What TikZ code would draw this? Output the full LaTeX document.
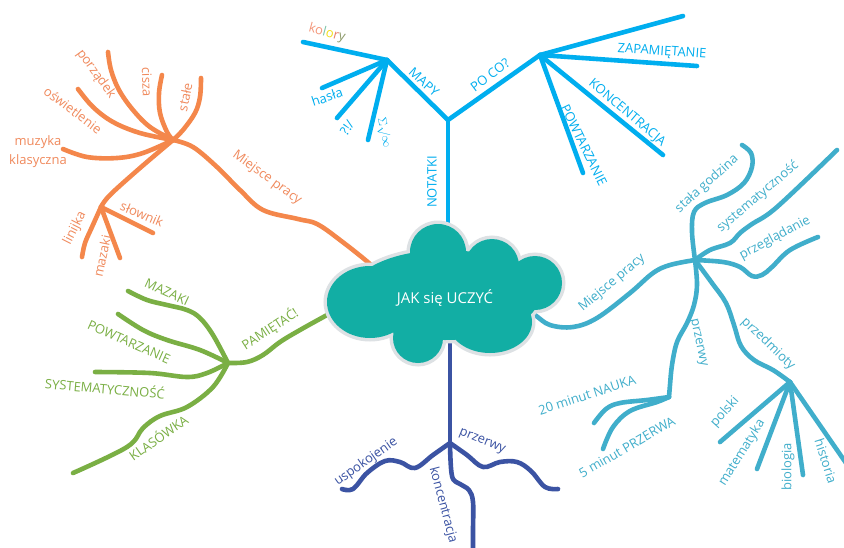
\documentclass[tikz,border=0pt]{standalone}
\usepackage{fontspec}
\setmainfont{Open Sans}
\definecolor{orl}{HTML}{F4874B}
\definecolor{ort}{HTML}{F08A5D}
\definecolor{bl}{HTML}{00AEEF}
\definecolor{tl}{HTML}{40AECB}
\definecolor{nv}{HTML}{3B53A3}
\definecolor{gr}{HTML}{7AAF44}
\definecolor{cloudfill}{HTML}{12AEA4}
\definecolor{cloudedge}{HTML}{DDE1E4}
\definecolor{kA}{HTML}{F4977A}
\definecolor{kB}{HTML}{7CC4A8}
\definecolor{kC}{HTML}{F2DF1A}
\definecolor{kD}{HTML}{E8806A}
\definecolor{kE}{HTML}{8E9B6B}
\tikzset{
  br/.style={line width=4.6pt, line cap=round, line join=round},
  lbl/.style={font=\fontsize{13}{15}\selectfont, inner sep=0pt},
  sm/.style={smooth, tension=0.6},
}
\begin{document}
\begin{tikzpicture}[x=1pt,y=-1pt]
\useasboundingbox (0,0) rectangle (844,547);
\fill[white] (0,0) rectangle (844,547);

% ---------------- orange tree ----------------
\coordinate (hubO) at (173,140);
\coordinate (hubO2) at (101,207);
\draw[br,orl] plot[sm] coordinates {(108,52) (111,70) (119,90) (133,110) (150,127) (hubO)};
\draw[br,orl] plot[sm] coordinates {(162,75) (159,93) (160,113) (167,132) (hubO)};
\draw[br,orl] plot[sm] coordinates {(201,78) (200,97) (195,113) (183,130) (hubO)};
\draw[br,orl] plot[sm] coordinates {(78,89) (93,107) (113,122) (140,133) (hubO)};
\draw[br,orl] plot[sm] coordinates {(63,149) (87,157) (117,158) (143,153) (hubO)};
\draw[br,orl] plot[sm] coordinates {(hubO) (193,147) (217,167) (240,190) (263,210) (298,219) (317,224) (340,240) (370,264) (385,280)};
\draw[br,orl] plot[sm] coordinates {(hubO) (140,168) (110,195) (hubO2)};
\draw[br,orl] plot[sm] coordinates {(hubO2) (92,227) (85,243) (82,257)};
\draw[br,orl] (hubO2) -- (120,258);
\draw[br,orl] (hubO2) -- (153,233);

% ---------------- blue tree ----------------
\coordinate (jB) at (448,120);
\coordinate (hubM) at (387,60);
\coordinate (hubP) at (540,55);
\draw[br,bl] (448,250) -- (jB);
\draw[br,bl] (jB) -- (hubM);
\draw[br,bl] (jB) -- (hubP);
\draw[br,bl] (hubM) -- (303,42);
\draw[br,bl] (hubM) -- (322,88);
\draw[br,bl] (hubM) -- (337,118);
\draw[br,bl] (hubM) -- (368,140);
\draw[br,bl] (hubP) -- (683,16);
\draw[br,bl] (hubP) -- (697,66);
\draw[br,bl] (hubP) -- (663,155);
\draw[br,bl] (hubP) -- (583,173);

% ---------------- teal tree ----------------
\coordinate (hubT) at (695,260);
\coordinate (hubT2) at (669,397);
\coordinate (hubT3) at (790,382);
\draw[br,tl] plot[sm] coordinates {(520,305) (535,315) (550,325) (573,327) (597,318) (630,293) (653,273) (670,265) (hubT)};
\draw[br,tl] plot[sm] coordinates {(hubT) (692,232) (694,212) (705,203) (727,195) (744,183) (752,167) (751,153) (742,145)};
\draw[br,tl] plot[sm] coordinates {(hubT) (710,250) (730,243) (740,233) (752,224) (777,207) (837,150)};
\draw[br,tl] plot[sm] coordinates {(hubT) (723,262) (740,267) (752,276) (762,275) (772,267) (790,250) (818,237)};
\draw[br,tl] plot[sm] coordinates {(hubT) (697,285) (694,305) (687,323) (677,342) (672,365) (670,385) (hubT2)};
\draw[br,tl] plot[sm] coordinates {(hubT2) (647,400) (620,403) (606,409) (594,423)};
\draw[br,tl] plot[sm] coordinates {(hubT2) (657,402) (630,411) (613,427) (603,449)};
\draw[br,tl] plot[sm] coordinates {(hubT) (712,283) (726,303) (734,325) (741,346) (754,360) (773,370) (hubT3)};
\draw[br,tl] (hubT3) -- (720,442);
\draw[br,tl] (hubT3) -- (757,469);
\draw[br,tl] (hubT3) -- (803,475);
\draw[br,tl] (hubT3) -- (846,463);

% ---------------- navy tree ----------------
\coordinate (jN) at (450,443);
\draw[br,nv] (450,340) -- (jN);
\draw[br,nv] plot[sm] coordinates {(jN) (433,455) (415,468) (400,462) (385,461) (367,473) (353,489) (342,489)};
\draw[br,nv] plot[sm] coordinates {(jN) (467,455) (483,467) (500,462) (517,462) (531,471) (545,487) (558,489)};
\draw[br,nv] plot[sm] coordinates {(jN) (452,476) (460,484) (469,490) (473,502) (473,530) (473,550)};

% ---------------- green tree ----------------
\coordinate (hubG) at (228,363);
\draw[br,gr] plot[sm] coordinates {(345,305) (327,315) (300,330) (280,342) (263,355) (247,362) (hubG)};
\draw[br,gr] plot[sm] coordinates {(hubG) (213,335) (200,318) (187,310) (167,305) (147,300) (128,291)};
\draw[br,gr] plot[sm] coordinates {(hubG) (200,350) (167,340) (143,330) (118,314)};
\draw[br,gr] plot[sm] coordinates {(hubG) (207,373) (187,377) (150,373) (95,372)};
\draw[br,gr] plot[sm] coordinates {(hubG) (213,387) (187,407) (160,416) (143,428) (127,447) (73,473)};

% ---------------- cloud ----------------
\def\cloudshape{%
  (370,302) ellipse [x radius=43, y radius=36]
  (438,252) circle [radius=28]
  (492,266) circle [radius=27]
  (535,283) circle [radius=27]
  (418,338) circle [radius=25]
  (490,322) ellipse [x radius=42, y radius=31]
  (445,295) ellipse [x radius=95, y radius=45]}
\draw[cloudedge, line width=7pt] \cloudshape;
\fill[cloudfill] \cloudshape;
\node[lbl, white, font=\fontsize{15}{17}\selectfont] (center) at (445,298) {JAK się UCZYĆ};

% ---------------- orange labels ----------------
\node[lbl,ort,rotate=-54] (tPorz) at (96,74) {porządek};
\node[lbl,ort,rotate=-88] (tCisza) at (147,82) {cisza};
\node[lbl,ort,rotate=78] (tStale) at (185,97) {stałe};
\node[lbl,ort,rotate=-37] (tOsw) at (73,110) {oświetlenie};
\node[lbl,ort,align=center,font=\fontsize{13}{19}\selectfont] (tMuz) at (38,152) {muzyka\\klasyczna};
\node[lbl,ort,rotate=-36] (tMiejO) at (267,178) {Miejsce pracy};
\node[lbl,ort,rotate=-23] (tSlow) at (142,214) {słownik};
\node[lbl,ort,rotate=63] (tLin) at (75,228) {linijka};
\node[lbl,ort,rotate=78] (tMazO) at (102,256) {mazaki};

% ---------------- blue labels ----------------
\node[lbl,bl,rotate=90] (tNot) at (432,182) {NOTATKI};
\node[lbl,bl,rotate=-42] (tMapy) at (424,82) {MAPY};
\node[lbl,bl,rotate=37] (tPoco) at (490,75) {PO CO?};
\node[lbl,rotate=-15] (tKol) at (327,33) {\textcolor{kA}{ko}\textcolor{kB}{l}\textcolor{kC}{o}\textcolor{kD}{r}\textcolor{kE}{y}};
\node[lbl,bl,rotate=18] (tHasla) at (327,97) {hasła};
\node[lbl,bl,rotate=55] (tQ) at (347,128) {?!/};
\node[lbl,bl,rotate=-78,font=\fontsize{13}{15}\selectfont] (tSig) at (384,133) {$\Sigma\surd\infty$};
\node[lbl,bl,rotate=-4] (tZap) at (662,52) {ZAPAMIĘTANIE};
\node[lbl,bl,rotate=-40] (tKonc) at (627,113) {KONCENTRACJA};
\node[lbl,bl,rotate=-64] (tPowB) at (584,145) {POWTARZANIE};

% ---------------- teal labels ----------------
\node[lbl,tl,rotate=40] (tMiejT) at (612,283) {Miejsce pracy};
\node[lbl,tl,rotate=42] (tStala) at (707,184) {stała godzina};
\node[lbl,tl,rotate=40] (tSysT) at (758,197) {systematyczność};
\node[lbl,tl,rotate=28] (tPrzeg) at (775,238) {przeglądanie};
\node[lbl,tl,rotate=-78] (tPrzT) at (698,343) {przerwy};
\node[lbl,tl,rotate=18] (t20) at (587,395) {20 minut NAUKA};
\node[lbl,tl,rotate=30] (t5) at (627,447) {5 minut PRZERWA};
\node[lbl,tl,rotate=-44] (tPrzed) at (768,344) {przedmioty};
\node[lbl,tl,rotate=48] (tPol) at (725,412) {polski};
\node[lbl,tl,rotate=58] (tMat) at (742,453) {matematyka};
\node[lbl,tl,rotate=90] (tBio) at (788,467) {biologia};
\node[lbl,tl,rotate=-72] (tHist) at (826,461) {historia};

% ---------------- navy labels ----------------
\node[lbl,nv,rotate=35] (tUsp) at (366,462) {uspokojenie};
\node[lbl,nv,rotate=-22] (tPrzN) at (482,442) {przerwy};
\node[lbl,nv,rotate=-75] (tKoncN) at (443,505) {koncentracja};

% ---------------- green labels ----------------
\node[lbl,gr,rotate=33] (tPam) at (270,329) {PAMIĘTAĆ!};
\node[lbl,gr,rotate=-25] (tMazG) at (167,292) {MAZAKI};
\node[lbl,gr,rotate=-24] (tPowG) at (129,342) {POWTARZANIE};
\node[lbl,gr,rotate=-5] (tSysG) at (105,388) {SYSTEMATYCZNOŚĆ};
\node[lbl,gr,rotate=35] (tKlas) at (158,437) {KLASÓWKA};
\end{tikzpicture}
\end{document}
